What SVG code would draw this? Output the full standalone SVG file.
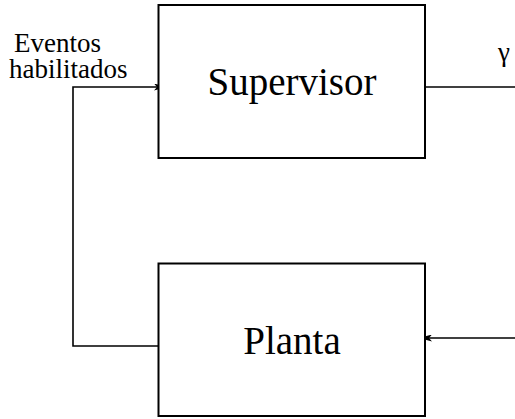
<svg xmlns="http://www.w3.org/2000/svg" width="515" height="419" viewBox="0 0 515 419">
  <style>
    .box { fill: #ffffff; stroke: #000000; stroke-width: 2; }
    .wire { fill: none; stroke: #000000; stroke-width: 1.6; }
    .big { font-family: "Liberation Serif", "Times New Roman", serif; font-size: 39px; fill: #000000; }
    .small { font-family: "Liberation Serif", "Times New Roman", serif; font-size: 27px; fill: #000000; }
  </style>
  <defs>
    <marker id="arrow" viewBox="0 0 13 7" refX="13" refY="3.5" markerWidth="13" markerHeight="7" markerUnits="userSpaceOnUse" orient="auto">
      <path d="M0,0 L13,3.5 L0,7 L3,3.5 Z" fill="#000000"/>
    </marker>
  </defs>

  <g id="connectors">
    <!-- feedback: plant output back to supervisor input -->
    <polyline class="wire" points="158,346 73,346 73,87 167,87" marker-end="url(#arrow)"/>
    <!-- supervisor output -->
    <line class="wire" x1="425" y1="87" x2="515" y2="87"/>
    <!-- plant input -->
    <line class="wire" x1="515" y1="338" x2="419" y2="338" marker-end="url(#arrow)"/>
  </g>

  <g id="supervisor">
    <rect class="box" x="158.5" y="5" width="266.5" height="153"/>
    <text class="big" x="292" y="95" text-anchor="middle">Supervisor</text>
  </g>

  <g id="planta">
    <rect class="box" x="158.5" y="263.5" width="266.5" height="152.5"/>
    <text class="big" x="292" y="354" text-anchor="middle">Planta</text>
  </g>

  <g id="labels">
    <text class="small" x="14" y="52">Eventos</text>
    <text class="small" x="9" y="77.5">habilitados</text>
    <text class="small" x="498" y="60.5">γ</text>
  </g>
</svg>
